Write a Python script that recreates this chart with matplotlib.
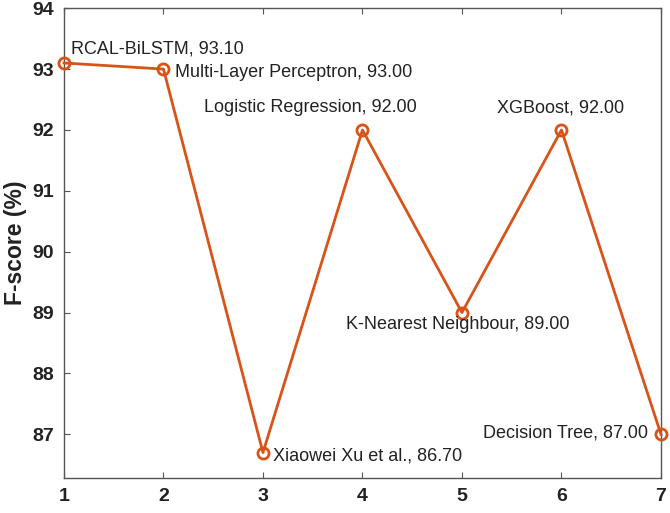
import matplotlib.pyplot as plt

# data
xs = [1, 2, 3, 4, 5, 6, 7]
fscore = [93.10, 93.00, 86.70, 92.00, 89.00, 92.00, 87.00]
models = ["RCAL-BiLSTM", "Multi-Layer Perceptron", "Xiaowei Xu et al.",
          "Logistic Regression", "K-Nearest Neighbour", "XGBoost", "Decision Tree"]

# label offsets in pixels and alignment for each point
offsets = [(7, 14), (12, -3), (10, -3), (-52, 22), (-4, -12), (-1, 22), (-13, 1)]
aligns = ["left", "left", "left", "center", "center", "center", "right"]

plt.rcParams['font.family'] = ['Liberation Sans', 'DejaVu Sans']

fig = plt.figure(figsize=(6.7, 5.13), dpi=100)
ax = fig.add_axes([0.0955, 0.068, 0.891, 0.916])

col = '#D95319'
ax.plot(xs, fscore, color=col, linewidth=2, marker='o', markersize=8,
        markerfacecolor='none', markeredgewidth=2, clip_on=False, zorder=3)

for x, y, name, off, ha in zip(xs, fscore, models, offsets, aligns):
    ax.annotate("%s, %.2f" % (name, y), (x, y), xytext=off,
                textcoords='offset pixels', ha=ha, va='center',
                fontsize=13, color='#222222')

ax.set_xlim(1, 7)
ax.set_ylim(86.28, 94)
ax.set_xticks(xs)
ax.set_yticks(range(87, 95))
ax.set_ylabel("F-score (%)", fontsize=16.5, fontweight='bold', color='#222222',
              labelpad=4)

ax.tick_params(direction='in', length=4, width=0.8, color='#555555',
               top=True, right=False, labelsize=14, labelcolor='#222222', pad=7)
for lbl in ax.get_xticklabels() + ax.get_yticklabels():
    lbl.set_fontweight('bold')
for s in ax.spines.values():
    s.set_color('#555555')
    s.set_linewidth(1)

fig.savefig("out.png", dpi=100)
